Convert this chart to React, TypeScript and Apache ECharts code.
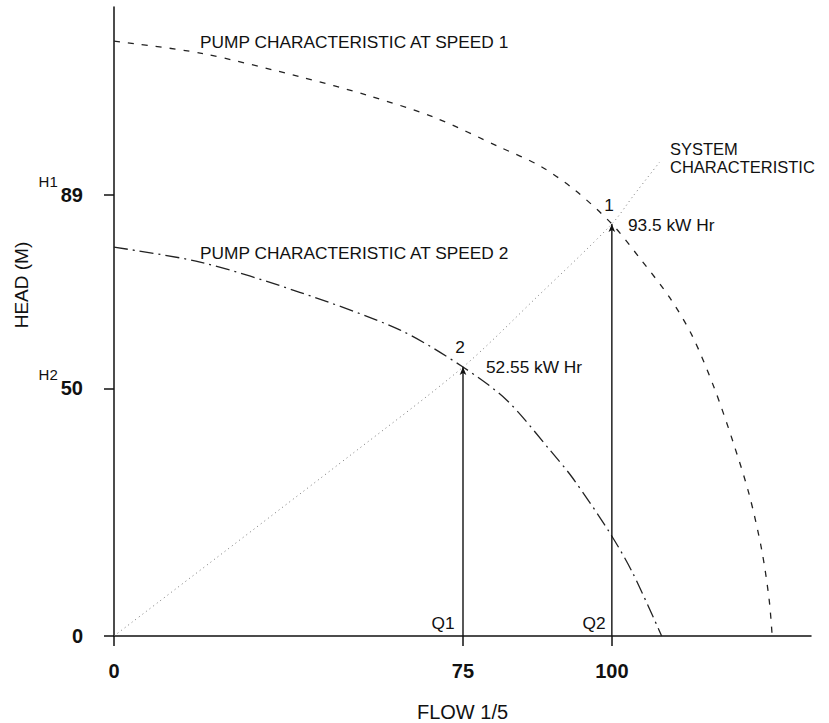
import React, { useEffect, useRef } from "react";
import * as echarts from "echarts";

// Pump characteristic at speed 1 (plotted flow position, head in m)
const speed1Flow = [0, 17.3, 37.4, 50.8, 64.1, 77.5, 85.6, 92.6, 100, 105.6, 111.7, 116.2, 120.6, 124.4, 127.6, 130.1, 131.6, 132.2];
const speed1Head = [120.1, 117.7, 112.9, 109.2, 104.8, 98.7, 94.9, 90.0, 83.2, 76.3, 68.2, 60.5, 50.0, 39.0, 28.5, 17.4, 7.3, 0];

// Pump characteristic at speed 2
const speed2Flow = [0, 17.3, 37.3, 57.4, 70.1, 78.9, 87.6, 92.2, 99.6, 104.2, 110];
const speed2Head = [78.5, 75.5, 69.4, 61.8, 54.3, 47.6, 37.5, 31.8, 20.8, 12.7, 0];

// System characteristic
const systemFlow = [0, 48, 70.1, 85, 100, 104.4, 109.6];
const systemHead = [0, 36.9, 54.3, 68.5, 83.2, 89, 95.7];

// Operating points (Q2 = point 1, Q1 = point 2)
const opFlow = [100, 70.1];
const opHead = [83.2, 54.3];

// Axis ticks
const xTickPositions = [0, 70.1, 100];
const xTickLabels = ["0", "75", "100"];
const yTickValues = [0, 50, 89];
const yTickLabels = ["0", "50", "89"];
const yTickSuper = ["", "H2", "H1"];

const FONT = "'Liberation Sans', Arial, Helvetica, sans-serif";
const INK = "#111";

const zip = (a: number[], b: number[]) => a.map((v, i) => [v, b[i]]);

export default function App() {
  const ref = useRef<HTMLDivElement>(null);
  useEffect(() => {
    if (!ref.current) return;
    const chart = echarts.init(ref.current, null, { renderer: "svg" });

    const verticalSeries = opFlow.map((q, i) => ({
      type: "line",
      silent: true,
      data: [
        { value: [q, 0], symbol: "none" },
        { value: [q, opHead[i]], symbol: "arrow", symbolSize: [5, 8] },
      ],
      lineStyle: { color: INK, width: 1.4, type: "solid" },
      itemStyle: { color: INK },
      showSymbol: true,
      z: 3,
    }));

    const txt = (text: string, x: number, y: number, size = 17.3, align = "left", extra: any = {}) => ({
      type: "text",
      x,
      y,
      silent: true,
      ...extra,
      style: {
        text,
        fontSize: size,
        fontFamily: FONT,
        fill: INK,
        align,
        verticalAlign: "middle",
        ...(extra.style || {}),
      },
    });

    chart.setOption({
      animation: false,
      backgroundColor: "#fff",
      grid: {
        left: 114,
        top: 7,
        width: 697,
        height: 629,
        containLabel: false,
        outerBoundsMode: "none",
      },
      xAxis: {
        type: "value",
        min: 0,
        max: 140,
        name: "FLOW 1/5",
        nameLocation: "middle",
        nameGap: 66,
        nameTextStyle: { fontSize: 20, fontFamily: FONT, color: INK },
        axisLine: { show: true, lineStyle: { color: INK, width: 1.5 } },
        axisTick: { show: true, length: 10, lineStyle: { color: INK, width: 1.5 }, customValues: xTickPositions },
        axisLabel: {
          customValues: xTickPositions,
          margin: 25,
          fontSize: 20,
          fontWeight: "bold",
          fontFamily: FONT,
          color: INK,
          formatter: (v: number) => {
            const i = xTickPositions.indexOf(v);
            return i >= 0 ? xTickLabels[i] : "";
          },
        },
        splitLine: { show: false },
      },
      yAxis: {
        type: "value",
        min: 0,
        max: 127,
        axisLine: { show: true, lineStyle: { color: INK, width: 1.5 } },
        axisTick: { show: true, length: 10, lineStyle: { color: INK, width: 1.5 }, customValues: yTickValues },
        axisLabel: {
          customValues: yTickValues,
          margin: 31,
          color: INK,
          formatter: (v: number) => {
            const i = yTickValues.indexOf(v);
            if (i < 0) return "";
            const s = yTickSuper[i];
            return s ? `{h|${s}}{v|${yTickLabels[i]}}` : `{v|${yTickLabels[i]}}`;
          },
          rich: {
            h: { fontSize: 15, fontFamily: FONT, color: INK, lineHeight: 16, padding: [0, 3, 28, 0] },
            v: { fontSize: 20, fontWeight: "bold", fontFamily: FONT, color: INK, lineHeight: 22 },
          },
        },
        splitLine: { show: false },
      },
      series: [
        {
          type: "line",
          name: "Speed 1",
          data: zip(speed1Flow, speed1Head),
          smooth: 0.3,
          showSymbol: false,
          lineStyle: { color: "#222", width: 1.3, type: [6, 8] },
        },
        {
          type: "line",
          name: "Speed 2",
          data: zip(speed2Flow, speed2Head),
          smooth: 0.3,
          showSymbol: false,
          lineStyle: { color: "#222", width: 1.3, type: [14, 5, 2, 5] },
        },
        {
          type: "line",
          name: "System",
          data: zip(systemFlow, systemHead),
          smooth: 0.3,
          showSymbol: false,
          lineStyle: { color: "#777", width: 1, type: [1, 3.5] },
        },
        ...verticalSeries,
      ],
      graphic: [
        txt("PUMP CHARACTERISTIC AT SPEED 1", 200, 42),
        txt("PUMP CHARACTERISTIC AT SPEED 2", 200, 253),
        txt("SYSTEM", 670, 149, 16.5),
        txt("CHARACTERISTIC", 670, 167, 16.5),
        txt("1", 609, 205, 17.3, "center"),
        txt("93.5 kW Hr", 628, 225),
        txt("2", 460, 347, 17.3, "center"),
        txt("52.55 kW Hr", 486, 367),
        txt("Q1", 443, 623, 17.3, "center"),
        txt("Q2", 594, 623, 17.3, "center"),
        txt("HEAD (M)", 21, 285, 19, "center", { rotation: Math.PI / 2 }),
      ],
    });
    return () => chart.dispose();
  }, []);
  return (
    <div
      ref={ref}
      style={{ position: "absolute", left: 0, top: 0, width: 829, height: 723, background: "#fff" }}
    />
  );
}
